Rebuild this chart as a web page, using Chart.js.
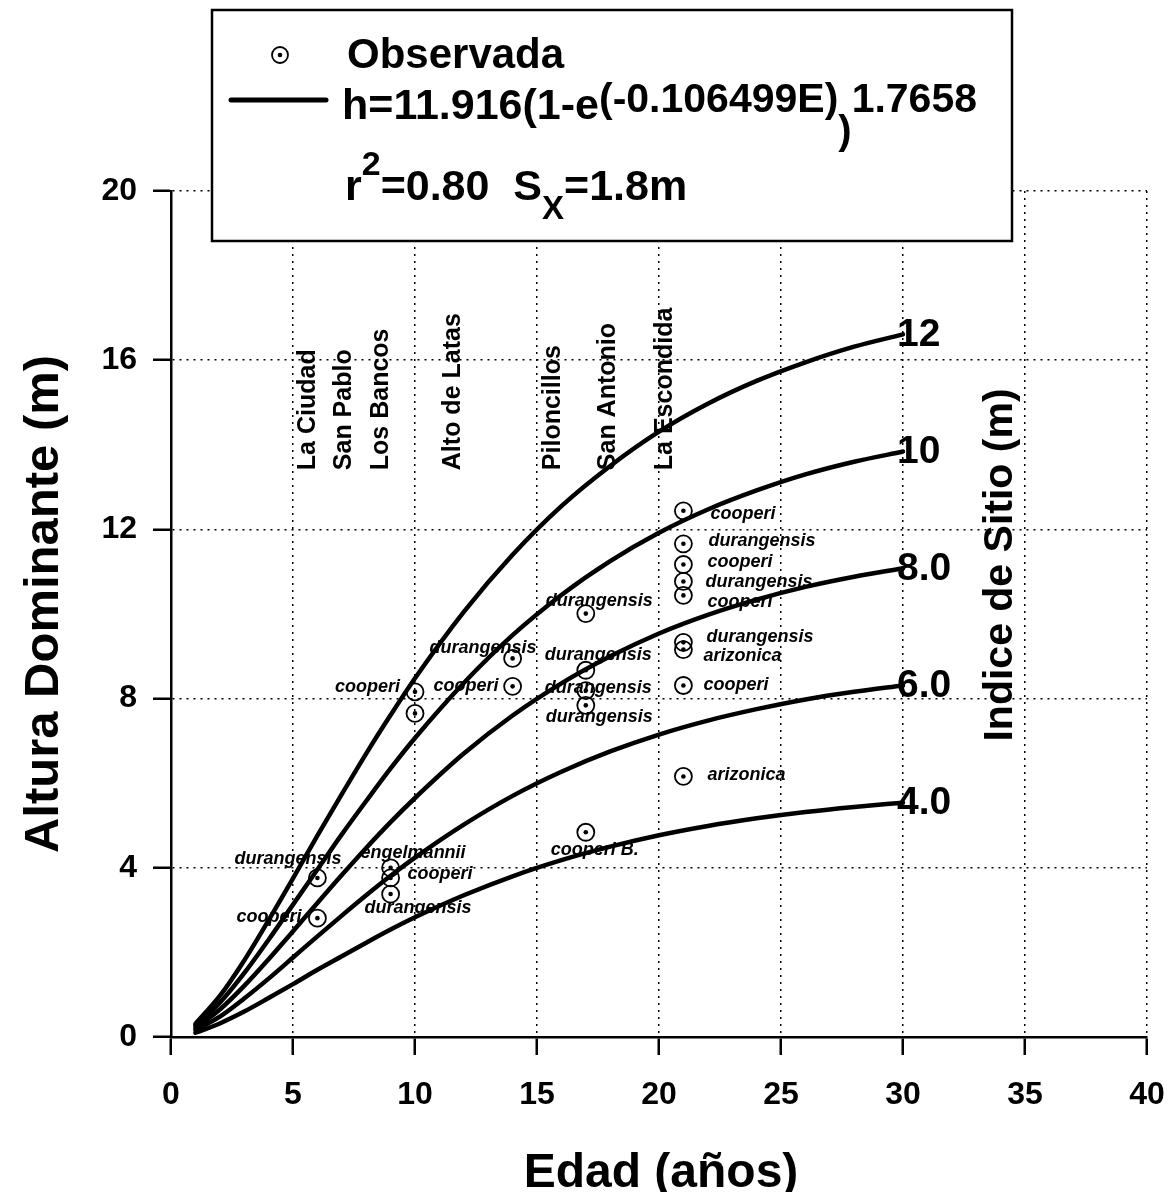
<!DOCTYPE html>
<html>
<head>
<meta charset="utf-8">
<script src="https://cdn.jsdelivr.net/npm/chart.js@4.4.1/dist/chart.umd.min.js"></script>
<style>
html,body{margin:0;padding:0;background:#fff;}
canvas{display:block;}
</style>
</head>
<body>
<canvas id="c" width="1171" height="1192"></canvas>
<script>
// ---------- data ----------
const ages = [1,2,3,4,5,6,7,8,9,10,12,14,16,18,20,22,24,26,28,30];
const si12 = [0.31,0.97,1.81,2.76,3.75,4.76,5.74,6.70,7.61,8.48,10.05,11.40,12.55,13.50,14.31,14.97,15.51,15.95,16.32,16.61];
const si10 = [0.26,0.81,1.51,2.30,3.13,3.96,4.79,5.58,6.35,7.07,8.37,9.50,10.45,11.25,11.92,12.47,12.92,13.30,13.60,13.84];
const si8  = [0.21,0.65,1.21,1.84,2.50,3.17,3.83,4.47,5.08,5.65,6.70,7.60,8.36,9.00,9.54,9.98,10.34,10.64,10.88,11.08];
const si6  = [0.16,0.48,0.91,1.38,1.88,2.38,2.87,3.35,3.81,4.24,5.02,5.70,6.27,6.75,7.15,7.48,7.75,7.98,8.16,8.31];
const si4  = [0.10,0.32,0.60,0.92,1.25,1.59,1.91,2.23,2.54,2.83,3.35,3.80,4.18,4.50,4.77,4.99,5.17,5.32,5.44,5.54];
const siteCurveLabels = ['12','10','8.0','6.0','4.0'];

const obsAge     = [6,6,9,9,9,10,10,14,14,17,17,17,17,17,21,21,21,21,21,21,21,21,21];
const obsHeight  = [3.76,2.81,4.00,3.76,3.38,8.16,7.65,8.95,8.29,10.01,8.67,8.19,7.84,4.84,6.16,8.31,9.16,9.33,10.44,10.77,11.17,11.66,12.44];
const obsSpecies = ['durangensis','cooperi','engelmannii','cooperi','durangensis','cooperi','','durangensis','cooperi',
                    'durangensis','durangensis','durangensis','durangensis','cooperi B.','arizonica','cooperi','arizonica',
                    'durangensis','cooperi','durangensis','cooperi','durangensis','cooperi'];

const siteNames = ['La Ciudad','San Pablo','Los Bancos','Alto de Latas','Piloncillos','San Antonio','La Escondida'];
const xTickValues = [0,5,10,15,20,25,30,35,40];
const yTickValues = [0,4,8,12,16,20];

const legendObserved = 'Observada';
const legendEq = ['h=11.916(1-e', '(-0.106499E)', ')', '1.7658'];
const legendFit = ['r', '2', '=0.80  S', 'X', '=1.8m'];
const xTitle = 'Edad (años)';
const yTitle = 'Altura Dominante (m)';
const rightTitle = 'Indice de Sitio (m)';

// ---------- placement / style (not data) ----------
const FONT = '"Liberation Sans", Arial, Helvetica, sans-serif';
const speciesOffsets = [[-83,-19],[-81,-1],[-30,-15],[17,-4],[-26,14],[-80,-5],[0,0],[-83,-10],[-79,0],
  [-40,-13],[-41,-15],[-41,-3],[-40,12],[-35,18],[24,-1],[20,0],[20,6],[23,-5],[24,7],[22,1],[24,-2],[25,-3],[27,3]];
const siteNameAge = [5.6,7.1,8.6,11.55,15.65,17.9,20.25];
const siteNameHeight = 13.4;

const curves = [si12, si10, si8, si6, si4];
const pts = (ys) => ages.map((a,i)=>({x:a, y:ys[i]}));
const obsPts = obsAge.map((a,i)=>({x:a, y:obsHeight[i]}));

const datasets = [
  {data: obsPts, showLine:false, pointRadius:8.5, pointBorderWidth:1.8, pointBorderColor:'#000',
   pointBackgroundColor:'rgba(0,0,0,0)', pointHoverRadius:8.5},
  {data: obsPts, showLine:false, pointRadius:2.3, pointBorderWidth:0, pointBackgroundColor:'#000', pointHoverRadius:2.3}
];
curves.forEach(c => datasets.push({data: pts(c), showLine:true, borderColor:'#000', borderWidth:4.5,
  pointRadius:0, cubicInterpolationMode:'monotone', borderCapStyle:'round', borderJoinStyle:'round'}));

function drawSeq(ctx, parts, x) {
  parts.forEach(p => {
    ctx.font = 'bold ' + p[1] + 'px ' + FONT;
    ctx.fillText(p[0], x, p[2]);
    x += ctx.measureText(p[0]).width;
  });
}

const annot = {
  id: 'annot',
  beforeDatasetsDraw(chart) {
    const ctx = chart.ctx, xs = chart.scales.x, ys = chart.scales.y;
    ctx.save();
    ctx.fillStyle = '#000';
    ctx.font = 'italic bold 18px ' + FONT;
    ctx.textAlign = 'left'; ctx.textBaseline = 'middle';
    obsSpecies.forEach((s,i) => {
      if (!s) return;
      const px = xs.getPixelForValue(obsAge[i]), py = ys.getPixelForValue(obsHeight[i]);
      ctx.fillText(s, px + speciesOffsets[i][0], py + speciesOffsets[i][1]);
    });
    ctx.font = 'bold 25px ' + FONT;
    siteNames.forEach((n,i) => {
      const px = xs.getPixelForValue(siteNameAge[i]), py = ys.getPixelForValue(siteNameHeight);
      ctx.save(); ctx.translate(px, py); ctx.rotate(-Math.PI/2);
      ctx.textAlign = 'left'; ctx.textBaseline = 'middle';
      ctx.fillText(n, 0, 0); ctx.restore();
    });
    ctx.restore();
  },
  afterDraw(chart) {
    const ctx = chart.ctx, xs = chart.scales.x, ys = chart.scales.y;
    ctx.save();
    ctx.fillStyle = '#000'; ctx.strokeStyle = '#000';
    ctx.font = 'bold 39px ' + FONT;
    ctx.textAlign = 'left'; ctx.textBaseline = 'middle';
    curves.forEach((c,i) => {
      const px = xs.getPixelForValue(ages[ages.length-1]), py = ys.getPixelForValue(c[c.length-1]);
      ctx.fillText(siteCurveLabels[i], px - 6, py + 1);
    });
    ctx.textAlign = 'center'; ctx.textBaseline = 'alphabetic';
    ctx.font = 'bold 48px ' + FONT;
    ctx.fillText(xTitle, 661, 1187);
    ctx.font = 'bold 49px ' + FONT;
    ctx.save(); ctx.translate(58, 604); ctx.rotate(-Math.PI/2);
    ctx.fillText(yTitle, 0, 0); ctx.restore();
    ctx.font = 'bold 41px ' + FONT;
    ctx.save(); ctx.translate(1012, 565); ctx.rotate(-Math.PI/2);
    ctx.fillText(rightTitle, 0, 0); ctx.restore();
    // legend box
    ctx.fillStyle = '#fff';
    ctx.fillRect(212, 10, 800, 231);
    ctx.lineWidth = 2.5;
    ctx.strokeRect(212, 10, 800, 231);
    ctx.fillStyle = '#000';
    ctx.lineWidth = 1.8;
    ctx.beginPath(); ctx.arc(280, 55, 8, 0, Math.PI*2); ctx.stroke();
    ctx.beginPath(); ctx.arc(280, 55, 2.3, 0, Math.PI*2); ctx.fill();
    ctx.lineWidth = 5; ctx.lineCap = 'round';
    ctx.beginPath(); ctx.moveTo(231, 100); ctx.lineTo(326, 100); ctx.stroke();
    ctx.textAlign = 'left'; ctx.textBaseline = 'alphabetic';
    ctx.font = 'bold 42px ' + FONT;
    ctx.fillText(legendObserved, 347, 68);
    drawSeq(ctx, [[legendEq[0],43,119],[legendEq[1],41,112],[legendEq[2],40,144],[legendEq[3],41,112]], 342);
    drawSeq(ctx, [[legendFit[0],43,200],[legendFit[1],34,175],[legendFit[2],43,200],[legendFit[3],33,219],[legendFit[4],43,200]], 345);
    ctx.restore();
  }
};

new Chart(document.getElementById('c'), {
  type: 'scatter',
  data: {datasets},
  options: {
    responsive: false, animation: false, devicePixelRatio: 1, events: [],
    layout: {padding: {left:0, right:24, top:191, bottom:0}},
    plugins: {legend:{display:false}, tooltip:{enabled:false}},
    scales: {
      x: {
        type:'linear', min:0, max:40,
        afterBuildTicks: s => { s.ticks = xTickValues.map(v => ({value:v})); },
        afterFit: s => { s.height = 155; s.paddingLeft = 0; s.paddingRight = 0; },
        ticks: {color:'#000', font:{family:FONT, size:32, weight:'bold'}, padding:21, maxRotation:0, autoSkip:false},
        grid: {color:'#000', lineWidth:1.5, tickLength:18, tickColor:'#000', tickWidth:2.5},
        border: {display:true, color:'#000', width:2.5, dash:[2,5]}
      },
      y: {
        type:'linear', min:0, max:20,
        afterBuildTicks: s => { s.ticks = yTickValues.map(v => ({value:v})); },
        afterFit: s => { s.width = 171; s.paddingTop = 0; s.paddingBottom = 0; },
        ticks: {color:'#000', font:{family:FONT, size:32, weight:'bold'}, padding:16, autoSkip:false},
        grid: {color:'#000', lineWidth:1.5, tickLength:18, tickColor:'#000', tickWidth:2.5},
        border: {display:true, color:'#000', width:2.5, dash:[2,5]}
      }
    }
  },
  plugins: [annot]
});
</script>
</body>
</html>
